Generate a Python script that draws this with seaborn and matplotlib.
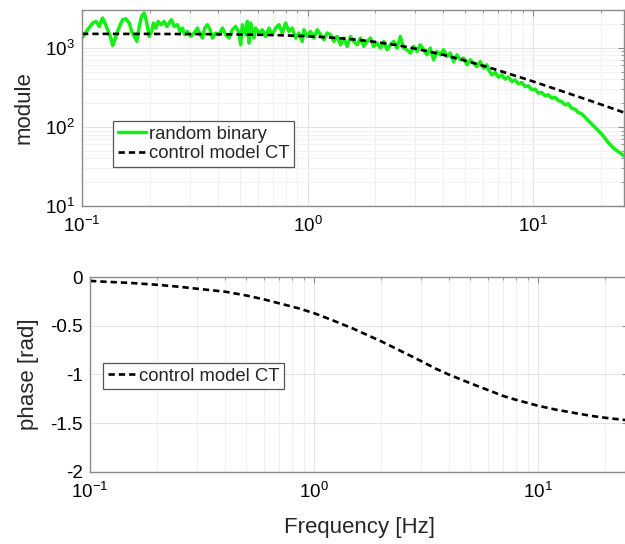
import matplotlib
matplotlib.use("Agg")
import matplotlib.pyplot as plt
import seaborn as sns
import pandas as pd
from matplotlib.ticker import LogLocator, LogFormatterSciNotation, NullFormatter, FixedLocator, FixedFormatter

# Measured frequency response (random binary excitation)
freq_meas = [
    0.1000, 0.1059, 0.1115, 0.1153, 0.1193, 0.1234, 0.1264, 0.1299, 0.1343, 0.1367,
    0.1390, 0.1438, 0.1478, 0.1514, 0.1565, 0.1620, 0.1659, 0.1704, 0.1751, 0.1794,
    0.1837, 0.1887, 0.1932, 0.1986, 0.2034, 0.2075, 0.2126, 0.2177, 0.2237, 0.2313,
    0.2377, 0.2434, 0.2493, 0.2562, 0.2650, 0.2723, 0.2789, 0.2857, 0.2935, 0.3037,
    0.3141, 0.3249, 0.3339, 0.3419, 0.3501, 0.3597, 0.3696, 0.3787, 0.3916, 0.4052,
    0.4193, 0.4337, 0.4485, 0.4642, 0.4801, 0.4968, 0.5052, 0.5139, 0.5317, 0.5408,
    0.5500, 0.5596, 0.5788, 0.5887, 0.6090, 0.6301, 0.6518, 0.6744, 0.6977, 0.7218,
    0.7469, 0.7725, 0.7993, 0.8268, 0.8553, 0.8849, 0.9155, 0.9471, 0.9634, 0.9966,
    1.031, 1.067, 1.104, 1.142, 1.181, 1.222, 1.264, 1.308, 1.353, 1.400,
    1.448, 1.498, 1.550, 1.603, 1.659, 1.716, 1.776, 1.837, 1.900, 1.966,
    2.034, 2.104, 2.177, 2.252, 2.329, 2.410, 2.493, 2.579, 2.668, 2.761,
    2.856, 2.954, 3.057, 3.162, 3.271, 3.384, 3.501, 3.622, 3.747, 3.877,
    4.011, 4.150, 4.293, 4.442, 4.595, 4.754, 4.918, 5.088, 5.264, 5.445,
    5.634, 5.829, 6.030, 6.237, 6.345, 6.563, 6.789, 7.024, 7.266, 7.517,
    7.777, 8.045, 8.323, 8.611, 8.909, 9.218, 9.537, 9.865, 10.21, 10.56,
    10.93, 11.30, 11.69, 12.10, 12.51, 12.95, 13.39, 13.86, 14.33, 14.83,
    15.34, 15.87, 16.42, 16.99, 17.57, 18.18, 18.81, 19.46, 20.13, 20.83,
    21.54, 22.29, 23.06, 23.86, 24.68, 25.30,
]
mag_meas = [
    1326, 1690, 2053, 2154, 1862, 2374, 2053, 1690, 1326, 1070,
    1203, 1609, 1955, 2261, 2328, 2053, 1609, 1391, 1203, 1862,
    2492, 2747, 2154, 1391, 1609, 2053, 1774, 2154, 1955, 2154,
    1862, 2053, 2261, 1862, 1955, 1609, 1774, 1461, 1609, 1391,
    1534, 1774, 1461, 1326, 1774, 1955, 1690, 1326, 1534, 1461,
    1774, 1461, 1326, 1690, 1862, 1534, 1091, 1955, 1461, 2154,
    1146, 2053, 1326, 1774, 1534, 1690, 1391, 1774, 1461, 1774,
    1955, 1534, 2053, 1609, 1774, 1326, 1534, 1203, 1690, 1391,
    1609, 1326, 1690, 1461, 1263, 1534, 1461, 1203, 1391, 1091,
    1326, 1040, 1391, 1203, 1091, 1326, 1040, 1203, 1326, 1040,
    1146, 990, 1203, 943, 1091, 1203, 990, 1391, 990, 943,
    856, 1040, 899, 1091, 943, 815, 990, 705, 899, 815,
    943, 777, 856, 671, 815, 705, 740, 609, 705, 640,
    580, 671, 553, 609, 527, 455, 487, 425, 455, 401,
    425, 375, 393, 350, 364, 324, 330, 294, 300, 267,
    272, 247, 254, 231, 237, 215, 209, 190, 196, 172,
    167, 152, 146, 133, 120, 109, 99, 90, 81.5, 71.9,
    63.4, 57.5, 52.2, 48.7, 45.5, 43.0,
]

# Continuous-time control model
freq_model = [0.1, 0.12, 0.15, 0.2, 0.25, 0.3, 0.4, 0.5, 0.6, 0.7,
              0.85, 1.0, 1.2, 1.5, 1.75, 2.0, 2.5, 3.0, 3.5, 4.0,
              5.0, 6.0, 7.0, 8.0, 10.0, 12.0, 15.0, 18.0, 21.0, 25.3]
mag_model = [1499, 1498, 1497, 1496, 1493, 1490, 1482, 1473, 1461, 1447,
             1424, 1399, 1360, 1297, 1241, 1185, 1077, 978, 890, 813,
             688, 593, 519, 460, 375, 315, 254, 213, 183, 152]
phase_model = [-0.04, -0.05, -0.06, -0.08, -0.10, -0.12, -0.15, -0.19, -0.23, -0.27,
               -0.32, -0.37, -0.44, -0.53, -0.60, -0.66, -0.77, -0.86, -0.94, -1.00,
               -1.09, -1.16, -1.22, -1.26, -1.32, -1.36, -1.40, -1.43, -1.45, -1.47]

phase_ticks = [-2, -1.5, -1, -0.5, 0]
phase_tick_labels = ["-2", "-1.5", "-1", "-0.5", "0"]

meas = pd.DataFrame({"f": freq_meas, "mag": mag_meas})
model = pd.DataFrame({"f": freq_model, "mag": mag_model, "phase": phase_model})

sns.set_theme(style="white")
plt.rcParams["font.family"] = ["Liberation Sans", "DejaVu Sans"]
plt.rcParams["mathtext.fontset"] = "custom"
plt.rcParams["mathtext.rm"] = "Liberation Sans"
plt.rcParams["mathtext.it"] = "Liberation Sans:italic"
plt.rcParams["mathtext.bf"] = "Liberation Sans:bold"
plt.rcParams["axes.unicode_minus"] = False

GREEN = "#14f014"
SPINE = "#8a8a8a"
XMIN, XMAX = 0.1, 25.3

fig = plt.figure(figsize=(6.25, 5.44), dpi=100)
ax1 = fig.add_axes([0.1312, 0.6213, 0.8672, 0.3603])
ax2 = fig.add_axes([0.144, 0.1324, 0.8608, 0.3584])

dash = (0, (2.4, 1.5))

# Magnitude
sns.lineplot(data=meas, x="f", y="mag", ax=ax1, color=GREEN, lw=2.5,
             estimator=None, sort=False, label="random binary")
sns.lineplot(data=model, x="f", y="mag", ax=ax1, color="black", lw=1.9,
             estimator=None, sort=False, label="control model CT", linestyle=dash)
ax1.set_xscale("log")
ax1.set_yscale("log")
ax1.set_xlim(XMIN, XMAX)
ax1.set_ylim(10, 3000)
ax1.set_xlabel("")
ax1.set_ylabel("module", fontsize=16)
ax1.yaxis.set_label_coords(-0.088, 0.5)

# Phase
sns.lineplot(data=model, x="f", y="phase", ax=ax2, color="black", lw=1.9,
             estimator=None, sort=False, label="control model CT", linestyle=dash)
ax2.set_xscale("log")
ax2.set_xlim(XMIN, XMAX)
ax2.set_ylim(-2, 0)
ax2.yaxis.set_major_locator(FixedLocator(phase_ticks))
ax2.yaxis.set_major_formatter(FixedFormatter(phase_tick_labels))
ax2.set_ylabel("phase [rad]", fontsize=16)
ax2.yaxis.set_label_coords(-0.095, 0.5)
ax2.set_xlabel("Frequency [Hz]", fontsize=16)
ax2.xaxis.set_label_coords(0.5, -0.23)

for ax in (ax1, ax2):
    ax.set_facecolor("white")
    ax.xaxis.set_major_locator(LogLocator(base=10, numticks=10))
    ax.xaxis.set_minor_locator(LogLocator(base=10, subs=range(2, 10), numticks=20))
    ax.xaxis.set_major_formatter(LogFormatterSciNotation())
    ax.xaxis.set_minor_formatter(NullFormatter())
    ax.grid(which="major", color="#e4e4e4", lw=0.8)
    ax.grid(which="minor", axis="x", color="#efefef", lw=0.7)
    for s in ax.spines.values():
        s.set_visible(True)
        s.set_color(SPINE)
        s.set_linewidth(1.0)
    ax.tick_params(which="both", direction="in", top=True, right=True,
                   colors=SPINE, labelcolor="black", labelsize=13.5, pad=5)
    ax.tick_params(axis="x", which="both", pad=7)
    ax.tick_params(which="major", length=4, width=0.8)
    ax.tick_params(which="minor", length=2.5, width=0.6)
    ax.set_axisbelow(True)

ax1.yaxis.set_major_locator(LogLocator(base=10, numticks=10))
ax1.yaxis.set_minor_locator(LogLocator(base=10, subs=range(2, 10), numticks=20))
ax1.yaxis.set_minor_formatter(NullFormatter())
ax1.grid(which="minor", axis="y", color="#f1f1f1", lw=0.7)

leg_kw = dict(loc="upper left", fontsize=13.3, frameon=True, fancybox=False,
              framealpha=1, edgecolor="#555555", handlelength=1.55,
              handletextpad=0.15, borderpad=0.25, labelspacing=0.15,
              borderaxespad=0, bbox_transform=fig.transFigure)
l1 = ax1.legend(bbox_to_anchor=(0.1808, 0.7776), **leg_kw)
l2 = ax2.legend(bbox_to_anchor=(0.1648, 0.3327), **leg_kw)
for lg in (l1, l2):
    lg.get_frame().set_linewidth(0.9)

fig.savefig("out.png", dpi=100, facecolor="white")
